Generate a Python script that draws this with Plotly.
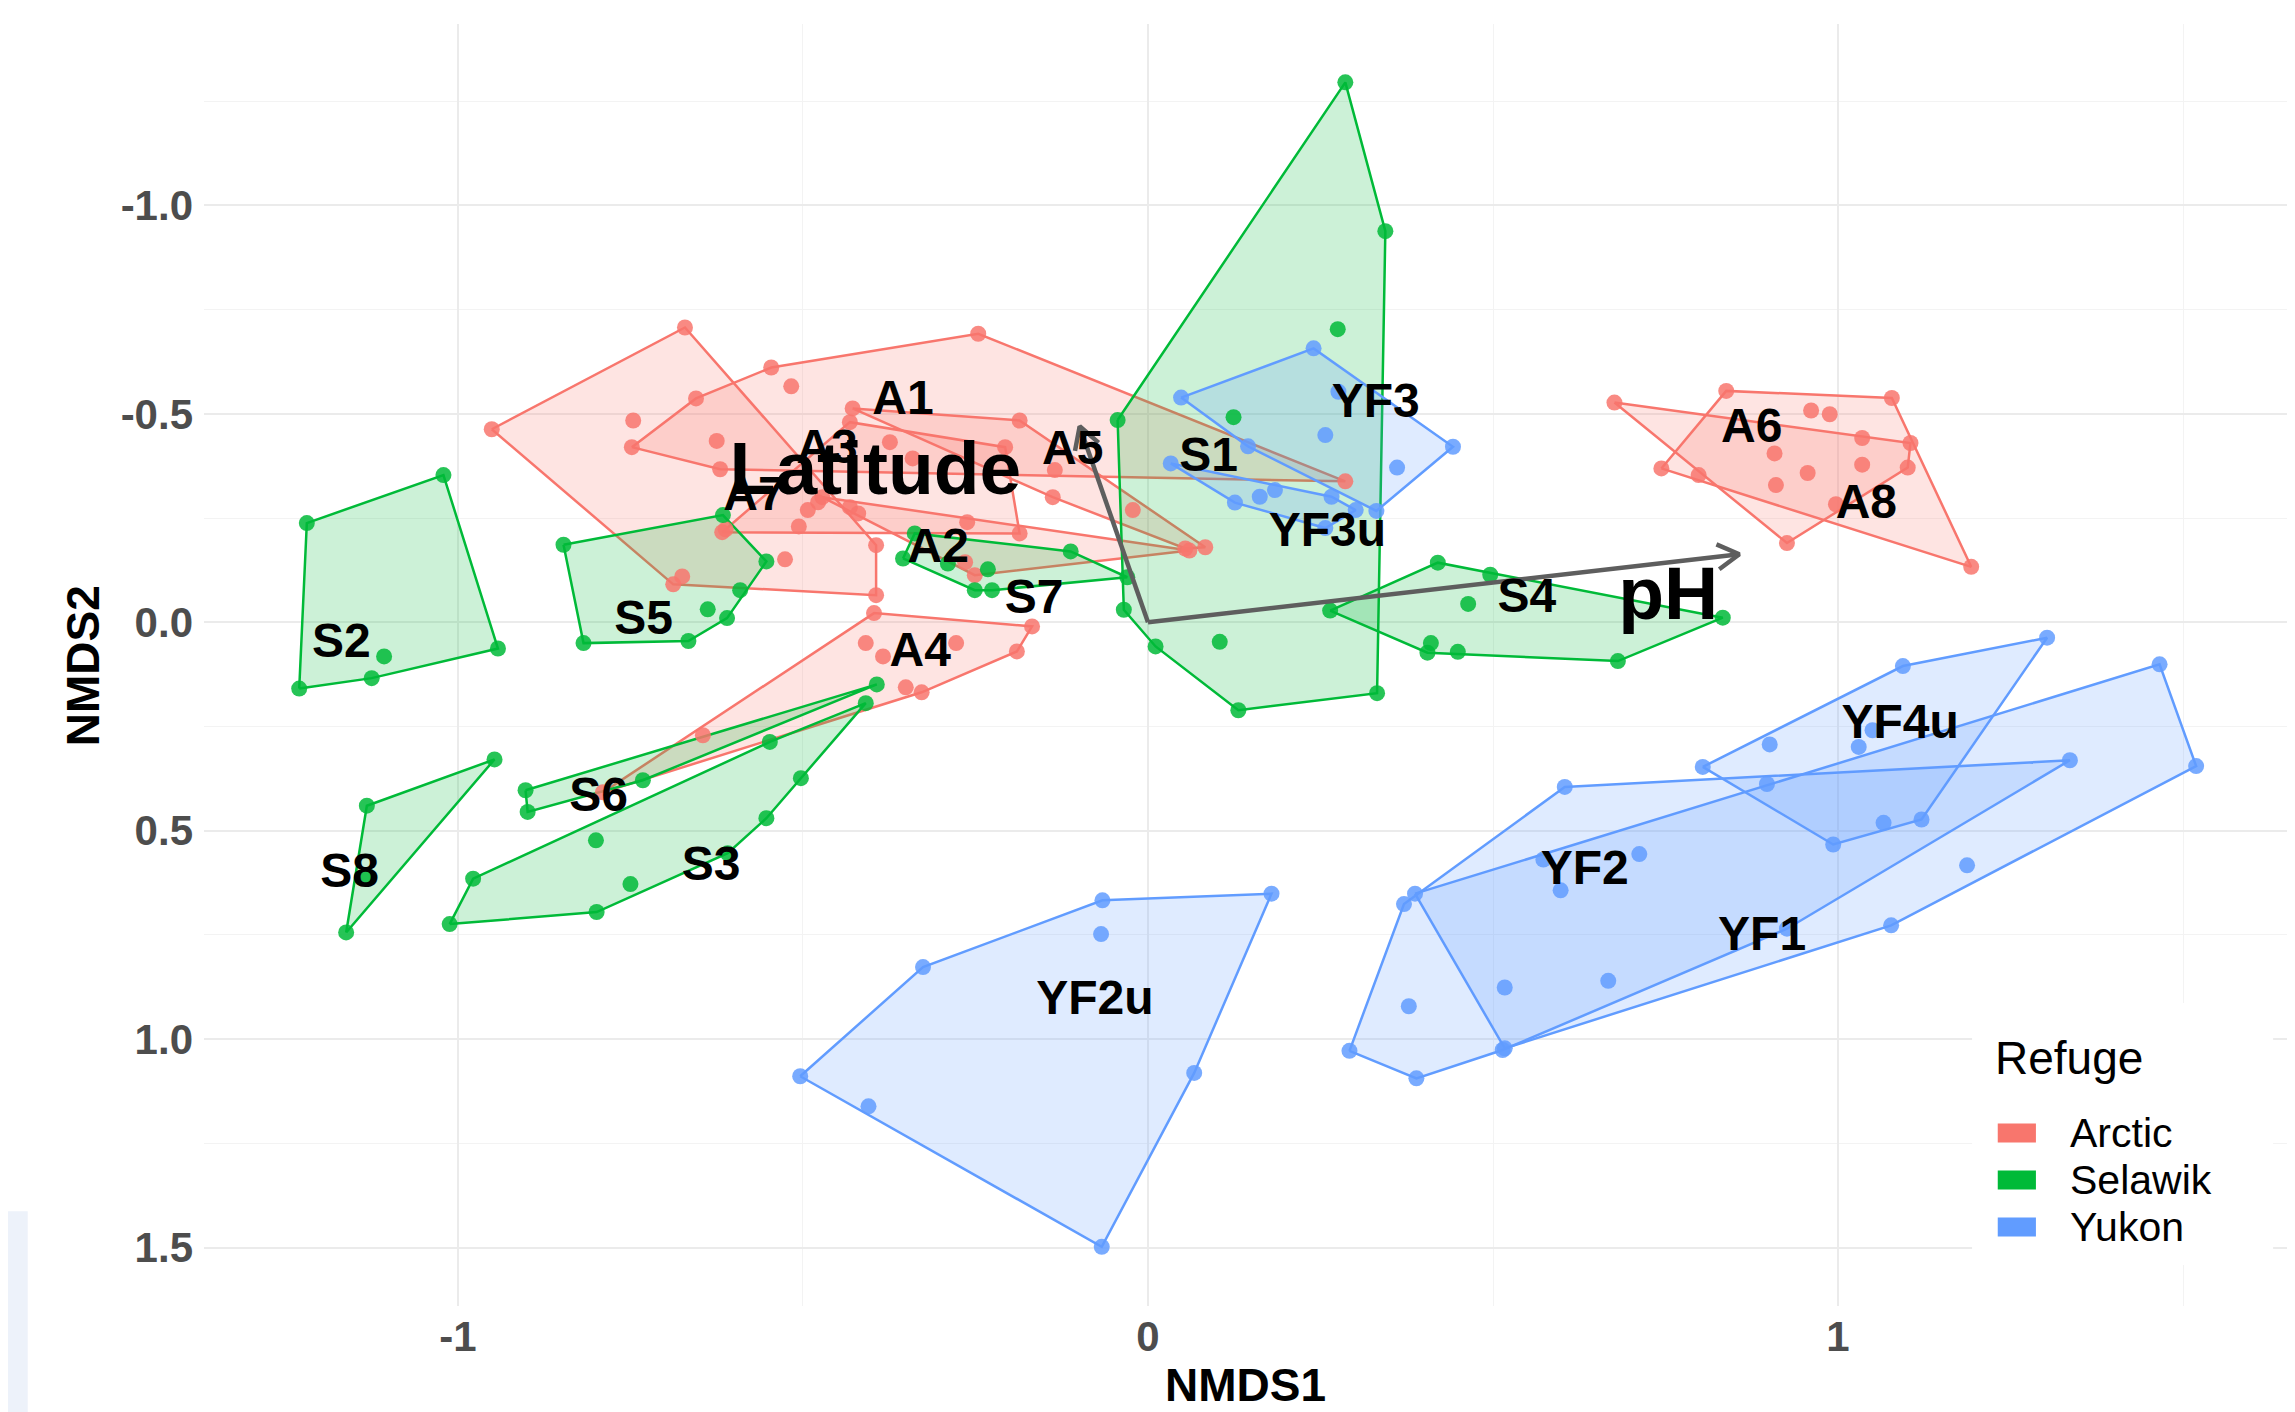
import math
import plotly.graph_objects as go

# ---------------- data (NMDS site scores per group) ----------------
A1 = [(-0.546,-0.611),(-0.246,-0.692),(0.286,-0.338),(-0.620,-0.367),(-0.748,-0.420),(-0.655,-0.537),(-0.517,-0.566),(-0.625,-0.435)]
A2 = [(-0.472,-0.300),(-0.262,-0.240),(0.060,-0.172),(-0.251,-0.113),(-0.265,-0.144)]
A3 = [(-0.432,-0.480),(-0.207,-0.420),(-0.186,-0.213),(-0.617,-0.216),(-0.478,-0.288),(-0.493,-0.269),(-0.432,-0.276),(-0.420,-0.261),(-0.506,-0.230),(-0.374,-0.432),(-0.341,-0.393)]
A4 = [(-0.397,-0.022),(-0.168,0.010),(-0.190,0.070),(-0.328,0.168),(-0.790,0.408),(-0.645,0.271),(-0.409,0.050),(-0.384,0.082),(-0.278,0.050),(-0.351,0.156)]
A5 = [(-0.428,-0.513),(-0.186,-0.484),(0.083,-0.180),(0.054,-0.177),(-0.135,-0.365),(-0.138,-0.300),(-0.022,-0.269)]
A6 = [(0.838,-0.555),(1.078,-0.538),(1.193,-0.133),(0.744,-0.369),(0.798,-0.353),(0.961,-0.508),(0.988,-0.499)]
A7 = [(-0.671,-0.707),(-0.951,-0.463),(-0.688,-0.091),(-0.394,-0.065),(-0.394,-0.185),(-0.675,-0.110),(-0.526,-0.151),(-0.612,-0.223),(-0.746,-0.484)]
A8 = [(0.676,-0.527),(1.105,-0.430),(1.101,-0.371),(0.926,-0.190),(1.035,-0.442),(1.035,-0.378),(0.908,-0.405),(0.956,-0.358),(0.910,-0.329),(0.997,-0.283)]

S1 = [(-0.044,-0.485),(0.286,-1.295),(0.344,-0.938),(0.332,0.170),(0.131,0.211),(0.011,0.058),(-0.035,-0.030),(0.275,-0.703),(0.124,-0.492),(0.104,0.047)]
S2 = [(-1.021,-0.353),(-1.219,-0.238),(-1.230,0.159),(-1.125,0.134),(-0.942,0.063),(-1.107,0.082)]
S3 = [(-0.978,0.615),(-0.548,0.287),(-0.409,0.194),(-0.503,0.374),(-0.553,0.470),(-0.609,0.554),(-0.799,0.695),(-1.012,0.724),(-0.800,0.523),(-0.750,0.628)]
S4 = [(0.264,-0.028),(0.420,-0.143),(0.496,-0.114),(0.833,-0.011),(0.681,0.093),(0.449,0.071),(0.405,0.073),(0.464,-0.044),(0.410,0.050)]
S5 = [(-0.847,-0.186),(-0.616,-0.257),(-0.553,-0.146),(-0.591,-0.077),(-0.610,-0.010),(-0.666,0.045),(-0.818,0.050),(-0.638,-0.031)]
S6 = [(-0.902,0.403),(-0.393,0.149),(-0.732,0.379),(-0.899,0.455)]
S7 = [(-0.338,-0.213),(-0.112,-0.170),(-0.030,-0.108),(-0.226,-0.077),(-0.251,-0.077),(-0.355,-0.153),(-0.290,-0.141),(-0.232,-0.127)]
S8 = [(-0.947,0.329),(-1.132,0.440),(-1.162,0.744),(-1.132,0.607)]

YF1 = [(0.387,0.651),(0.573,0.569),(1.466,0.101),(1.519,0.345),(1.077,0.727),(0.517,1.022),(1.187,0.583)]
YF2 = [(0.371,0.676),(0.604,0.395),(1.336,0.331),(0.926,0.735),(0.514,1.026),(0.389,1.094),(0.292,1.028),(0.897,0.388),(0.712,0.556),(0.598,0.643),(0.378,0.921),(0.517,0.876),(0.667,0.860)]
YF2u = [(-0.066,0.667),(0.179,0.651),(0.067,1.081),(-0.067,1.498),(-0.504,1.089),(-0.326,0.827),(-0.068,0.748),(-0.405,1.161)]
YF3 = [(0.048,-0.539),(0.240,-0.657),(0.442,-0.421),(0.331,-0.267),(0.145,-0.422),(0.276,-0.553),(0.257,-0.449),(0.361,-0.371)]
YF3u = [(0.033,-0.381),(0.266,-0.301),(0.301,-0.269),(0.257,-0.226),(0.126,-0.287),(0.162,-0.301),(0.184,-0.317)]
YF4u = [(0.804,0.347),(1.094,0.105),(1.303,0.037),(1.121,0.473),(0.993,0.533),(0.901,0.293),(1.030,0.299),(1.050,0.259),(1.066,0.481)]

group_names = ["A1","A2","A3","A4","A5","A6","A7","A8",
               "S1","S2","S3","S4","S5","S6","S7","S8",
               "YF1","YF2","YF2u","YF3","YF3u","YF4u"]
group_points = [A1,A2,A3,A4,A5,A6,A7,A8,S1,S2,S3,S4,S5,S6,S7,S8,YF1,YF2,YF2u,YF3,YF3u,YF4u]
group_refuge = ["Arctic"]*8 + ["Selawik"]*8 + ["Yukon"]*6

# group label positions
label_x = [-0.355,-0.304,-0.465,-0.330,-0.109,0.875,-0.571,1.041,
           0.088,-1.169,-0.633,0.549,-0.731,-0.796,-0.165,-1.157,
           0.890,0.633,-0.077,0.330,0.260,1.090]
label_y = [-0.528,-0.173,-0.412,0.076,-0.408,-0.461,-0.299,-0.278,
           -0.391,0.055,0.589,-0.054,-0.001,0.424,-0.050,0.606,
           0.757,0.599,0.912,-0.521,-0.212,0.248]

# environmental vectors
env_names = ["Latitude", "pH"]
env_x = [-0.099, 0.857]
env_y = [-0.470, -0.163]
env_label_x = [-0.395, 0.754]
env_label_y = [-0.352, -0.053]

refuges = ["Arctic", "Selawik", "Yukon"]
refuge_color = {"Arctic": "#F8766D", "Selawik": "#00BA38", "Yukon": "#619CFF"}
refuge_fill = {"Arctic": "rgba(248,118,109,0.2)", "Selawik": "rgba(0,186,56,0.2)", "Yukon": "rgba(97,156,255,0.2)"}

x_tickvals = [-1, 0, 1]
x_ticktext = ["-1", "0", "1"]
y_tickvals = [-1.0, -0.5, 0.0, 0.5, 1.0, 1.5]
y_ticktext = ["-1.0", "-0.5", "0.0", "0.5", "1.0", "1.5"]

# ---------------- layout geometry ----------------
# (the page body adds an 8 px offset, so the figure is 8 px smaller each way)
W, H = 2287, 1404
ML, MR, MT, MB = 196, 5, 16, 106
x_range = [-1.368, 1.655]
y_range = [1.640, -1.435]   # reversed axis
px_x = (W - ML - MR) / (x_range[1] - x_range[0])
px_y = (H - MT - MB) / (y_range[0] - y_range[1])

FONT = "Liberation Sans, Arial, sans-serif"


def convex_hull(pts):
    p = sorted(set(pts))
    if len(p) < 3:
        return p

    def cross(o, a, b):
        return (a[0] - o[0]) * (b[1] - o[1]) - (a[1] - o[1]) * (b[0] - o[0])
    lower = []
    for q in p:
        while len(lower) >= 2 and cross(lower[-2], lower[-1], q) <= 0:
            lower.pop()
        lower.append(q)
    upper = []
    for q in reversed(p):
        while len(upper) >= 2 and cross(upper[-2], upper[-1], q) <= 0:
            upper.pop()
        upper.append(q)
    return lower[:-1] + upper[:-1]


fig = go.Figure()

# hull polygons
for name, pts, ref in zip(group_names, group_points, group_refuge):
    h = convex_hull(pts)
    h = h + [h[0]]
    fig.add_trace(go.Scatter(
        x=[p[0] for p in h], y=[p[1] for p in h], mode="lines",
        fill="toself", fillcolor=refuge_fill[ref],
        line=dict(color=refuge_color[ref], width=2.5),
        hoverinfo="skip", showlegend=False))

# points
for name, pts, ref in zip(group_names, group_points, group_refuge):
    fig.add_trace(go.Scatter(
        x=[p[0] for p in pts], y=[p[1] for p in pts], mode="markers",
        marker=dict(color=refuge_color[ref], size=16, opacity=0.85, line=dict(width=0)),
        name=name, showlegend=False))

# env arrows (open chevron heads computed in pixel space)
HEAD_LEN = 25
HEAD_ANG = math.radians(30)
for ex, ey in zip(env_x, env_y):
    dxp, dyp = ex * px_x, ey * px_y
    L = math.hypot(dxp, dyp)
    bx, by = -dxp / L, -dyp / L
    xs = [0, ex, None]
    ys = [0, ey, None]
    wings = []
    for s in (1, -1):
        c, sn = math.cos(s * HEAD_ANG), math.sin(s * HEAD_ANG)
        wx = (bx * c - by * sn) * HEAD_LEN
        wy = (bx * sn + by * c) * HEAD_LEN
        wings.append((ex + wx / px_x, ey + wy / px_y))
    xs += [wings[0][0], ex, wings[1][0]]
    ys += [wings[0][1], ey, wings[1][1]]
    fig.add_trace(go.Scatter(x=xs, y=ys, mode="lines",
                             line=dict(color="#5E5E5E", width=4.5),
                             hoverinfo="skip", showlegend=False))

# env labels
fig.add_trace(go.Scatter(
    x=env_label_x, y=env_label_y, mode="text", text=env_names,
    textposition="middle center",
    textfont=dict(family=FONT, size=75, color="black", weight="bold"),
    hoverinfo="skip", showlegend=False))

# group labels
fig.add_trace(go.Scatter(
    x=label_x, y=label_y, mode="text", text=group_names,
    textposition="middle center",
    textfont=dict(family=FONT, size=48, color="black", weight="bold"),
    hoverinfo="skip", showlegend=False))

grid_major = dict(showgrid=True, gridcolor="#EBEBEB", gridwidth=2)
fig.update_layout(
    width=W, height=H,
    margin=dict(l=ML, r=MR, t=MT, b=MB, autoexpand=False),
    paper_bgcolor="white", plot_bgcolor="white",
    showlegend=False,
    xaxis=dict(range=x_range, tickmode="array", tickvals=x_tickvals, ticktext=x_ticktext,
               zeroline=False, showline=False, ticks="", ticklabelstandoff=2,
               tickfont=dict(family=FONT, size=42, color="#4D4D4D", weight="bold"),
               minor=dict(dtick=0.5, tick0=0, showgrid=True, gridcolor="#F3F3F3", gridwidth=1.2),
               **grid_major),
    yaxis=dict(range=y_range, tickmode="array", tickvals=y_tickvals, ticktext=y_ticktext,
               zeroline=False, showline=False, ticks="", ticklabelstandoff=10,
               tickfont=dict(family=FONT, size=42, color="#4D4D4D", weight="bold"),
               minor=dict(dtick=0.25, tick0=0, showgrid=True, gridcolor="#F3F3F3", gridwidth=1.2),
               **grid_major),
)

# axis titles
fig.add_annotation(text="NMDS1", xref="paper", yref="paper", x=0.4993, y=-0.062,
                   showarrow=False, xanchor="center", yanchor="middle",
                   font=dict(family=FONT, size=46, color="black", weight="bold"))
fig.add_annotation(text="NMDS2", xref="paper", yref="paper", x=-0.058, y=0.499,
                   showarrow=False, xanchor="center", yanchor="middle", textangle=-90,
                   font=dict(family=FONT, size=46, color="black", weight="bold"))

# manual legend (inside plot, bottom right)
fig.add_shape(type="rect", xref="paper", yref="paper", x0=0.8476, x1=0.9919, y0=0.032, y1=0.2363,
              fillcolor="white", line=dict(width=0), layer="above")
fig.add_annotation(text="Refuge", xref="paper", yref="paper", x=0.8575, y=0.1934,
                   showarrow=False, xanchor="left", yanchor="middle",
                   font=dict(family=FONT, size=46, color="black"))
leg_y = [0.1349, 0.0983, 0.0616]
for ref, yy in zip(refuges, leg_y):
    fig.add_shape(type="rect", xref="paper", yref="paper", x0=0.8599, x1=0.8782,
                  y0=yy - 0.0074, y1=yy + 0.0074, fillcolor=refuge_color[ref],
                  line=dict(width=0), layer="above")
    fig.add_annotation(text=ref, xref="paper", yref="paper", x=0.8935, y=yy,
                       showarrow=False, xanchor="left", yanchor="middle",
                       font=dict(family=FONT, size=41, color="black"))

# faint panel at lower-left edge of the image
fig.add_shape(type="rect", xref="paper", yref="paper", x0=-0.0980, x1=-0.0845, y0=-0.083, y1=0.074,
              fillcolor="#EDF2FA", line=dict(width=0), layer="above")

fig.write_html("out.html")
